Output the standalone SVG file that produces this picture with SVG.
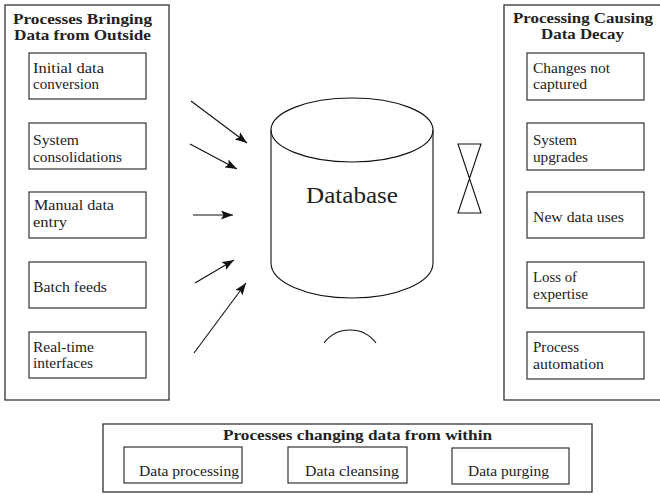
<svg xmlns="http://www.w3.org/2000/svg" width="660" height="495" viewBox="0 0 660 495">
<defs>
<marker id="ah" markerWidth="13" markerHeight="9" refX="12" refY="4.5" orient="auto" markerUnits="userSpaceOnUse"><path d="M0,0 L12,4.5 L0,9 L2.5,4.5 z" fill="#111"/></marker>
</defs>
<style>
.outer{fill:#fff;stroke:#333;stroke-width:1.3}
.box{fill:#fff;stroke:#333;stroke-width:1.2}
text{font-family:'Liberation Serif','DejaVu Serif','Times New Roman',Times,serif;fill:#222}
.t{font-size:15px}
.h{font-size:15.5px;font-weight:bold}
.db{font-size:24px}
.ln{fill:none;stroke:#111;stroke-width:1.1}
</style>
<rect width="660" height="495" fill="#fff"/>

<g id="left-group">
<rect class="outer" x="5" y="5" width="164" height="395"/>
<text class="h" x="13" y="24" textLength="139" lengthAdjust="spacingAndGlyphs">Processes Bringing</text>
<text class="h" x="14" y="40" textLength="137" lengthAdjust="spacingAndGlyphs">Data from Outside</text>
</g>
<g id="initial-data-conversion">
<rect class="box" x="29" y="53" width="117" height="46"/>
<text class="t" x="33" y="73" textLength="71" lengthAdjust="spacingAndGlyphs">Initial data</text>
<text class="t" x="33" y="89" textLength="66" lengthAdjust="spacingAndGlyphs">conversion</text>
</g>
<g id="system-consolidations">
<rect class="box" x="29" y="123" width="117" height="46"/>
<text class="t" x="33" y="145" textLength="46" lengthAdjust="spacingAndGlyphs">System</text>
<text class="t" x="33" y="162" textLength="89" lengthAdjust="spacingAndGlyphs">consolidations</text>
</g>
<g id="manual-data-entry">
<rect class="box" x="29" y="192" width="117" height="46"/>
<text class="t" x="34" y="210" textLength="80" lengthAdjust="spacingAndGlyphs">Manual data</text>
<text class="t" x="33" y="227" textLength="34" lengthAdjust="spacingAndGlyphs">entry</text>
</g>
<g id="batch-feeds">
<rect class="box" x="29" y="262" width="117" height="46"/>
<text class="t" x="33" y="292" textLength="74" lengthAdjust="spacingAndGlyphs">Batch feeds</text>
</g>
<g id="real-time-interfaces">
<rect class="box" x="29" y="332" width="117" height="46"/>
<text class="t" x="33" y="352" textLength="61" lengthAdjust="spacingAndGlyphs">Real-time</text>
<text class="t" x="33" y="368" textLength="60" lengthAdjust="spacingAndGlyphs">interfaces</text>
</g>

<g id="right-group">
<rect class="outer" x="504" y="5" width="170" height="395"/>
<text class="h" x="513" y="23" textLength="140" lengthAdjust="spacingAndGlyphs">Processing Causing</text>
<text class="h" x="541" y="39" textLength="83" lengthAdjust="spacingAndGlyphs">Data Decay</text>
</g>
<g id="changes-not-captured">
<rect class="box" x="527" y="53" width="117" height="47"/>
<text class="t" x="533" y="73" textLength="77" lengthAdjust="spacingAndGlyphs">Changes not</text>
<text class="t" x="533" y="89" textLength="54" lengthAdjust="spacingAndGlyphs">captured</text>
</g>
<g id="system-upgrades">
<rect class="box" x="527" y="123" width="117" height="47"/>
<text class="t" x="533" y="145" textLength="44" lengthAdjust="spacingAndGlyphs">System</text>
<text class="t" x="533" y="162" textLength="55" lengthAdjust="spacingAndGlyphs">upgrades</text>
</g>
<g id="new-data-uses">
<rect class="box" x="527" y="192" width="117" height="46"/>
<text class="t" x="533" y="222" textLength="91" lengthAdjust="spacingAndGlyphs">New data uses</text>
</g>
<g id="loss-of-expertise">
<rect class="box" x="527" y="262" width="117" height="46"/>
<text class="t" x="533" y="282" textLength="44" lengthAdjust="spacingAndGlyphs">Loss of</text>
<text class="t" x="533" y="299" textLength="55" lengthAdjust="spacingAndGlyphs">expertise</text>
</g>
<g id="process-automation">
<rect class="box" x="527" y="332" width="117" height="47"/>
<text class="t" x="533" y="352" textLength="46" lengthAdjust="spacingAndGlyphs">Process</text>
<text class="t" x="533" y="369" textLength="71" lengthAdjust="spacingAndGlyphs">automation</text>
</g>

<g id="bottom-group">
<rect class="outer" x="103" y="424" width="489" height="68"/>
<text class="h" x="223" y="440" textLength="269" lengthAdjust="spacingAndGlyphs">Processes changing data from within</text>
</g>
<g id="data-processing">
<rect class="box" x="124" y="447" width="118" height="36"/>
<text class="t" x="139" y="476" textLength="100" lengthAdjust="spacingAndGlyphs">Data processing</text>
</g>
<g id="data-cleansing">
<rect class="box" x="288" y="447" width="119" height="36"/>
<text class="t" x="305" y="476" textLength="94" lengthAdjust="spacingAndGlyphs">Data cleansing</text>
</g>
<g id="data-purging">
<rect class="box" x="452" y="448" width="117" height="36"/>
<text class="t" x="468" y="476" textLength="81" lengthAdjust="spacingAndGlyphs">Data purging</text>
</g>

<g id="database">
<path class="ln" d="M271,130 L271,263 A81,35 0 0 0 433,263 L433,130"/>
<ellipse class="ln" cx="352" cy="130" rx="81" ry="32"/>
<text class="db" x="306" y="203" textLength="92" lengthAdjust="spacingAndGlyphs">Database</text>
</g>

<g id="hourglass">
<path class="ln" d="M458,144 L481,144 L458,213 L481,213 Z"/>
</g>

<g id="arc">
<path class="ln" d="M324,343 A32.5,32.5 0 0 1 376,343"/>
</g>

<g id="connectors">
<line class="ln" x1="191" y1="101" x2="247" y2="143" marker-end="url(#ah)"/>
<line class="ln" x1="190" y1="144" x2="237" y2="169" marker-end="url(#ah)"/>
<line class="ln" x1="193" y1="215" x2="233" y2="215" marker-end="url(#ah)"/>
<line class="ln" x1="195" y1="283" x2="234" y2="260" marker-end="url(#ah)"/>
<line class="ln" x1="194" y1="353" x2="246" y2="283" marker-end="url(#ah)"/>
</g>
</svg>
